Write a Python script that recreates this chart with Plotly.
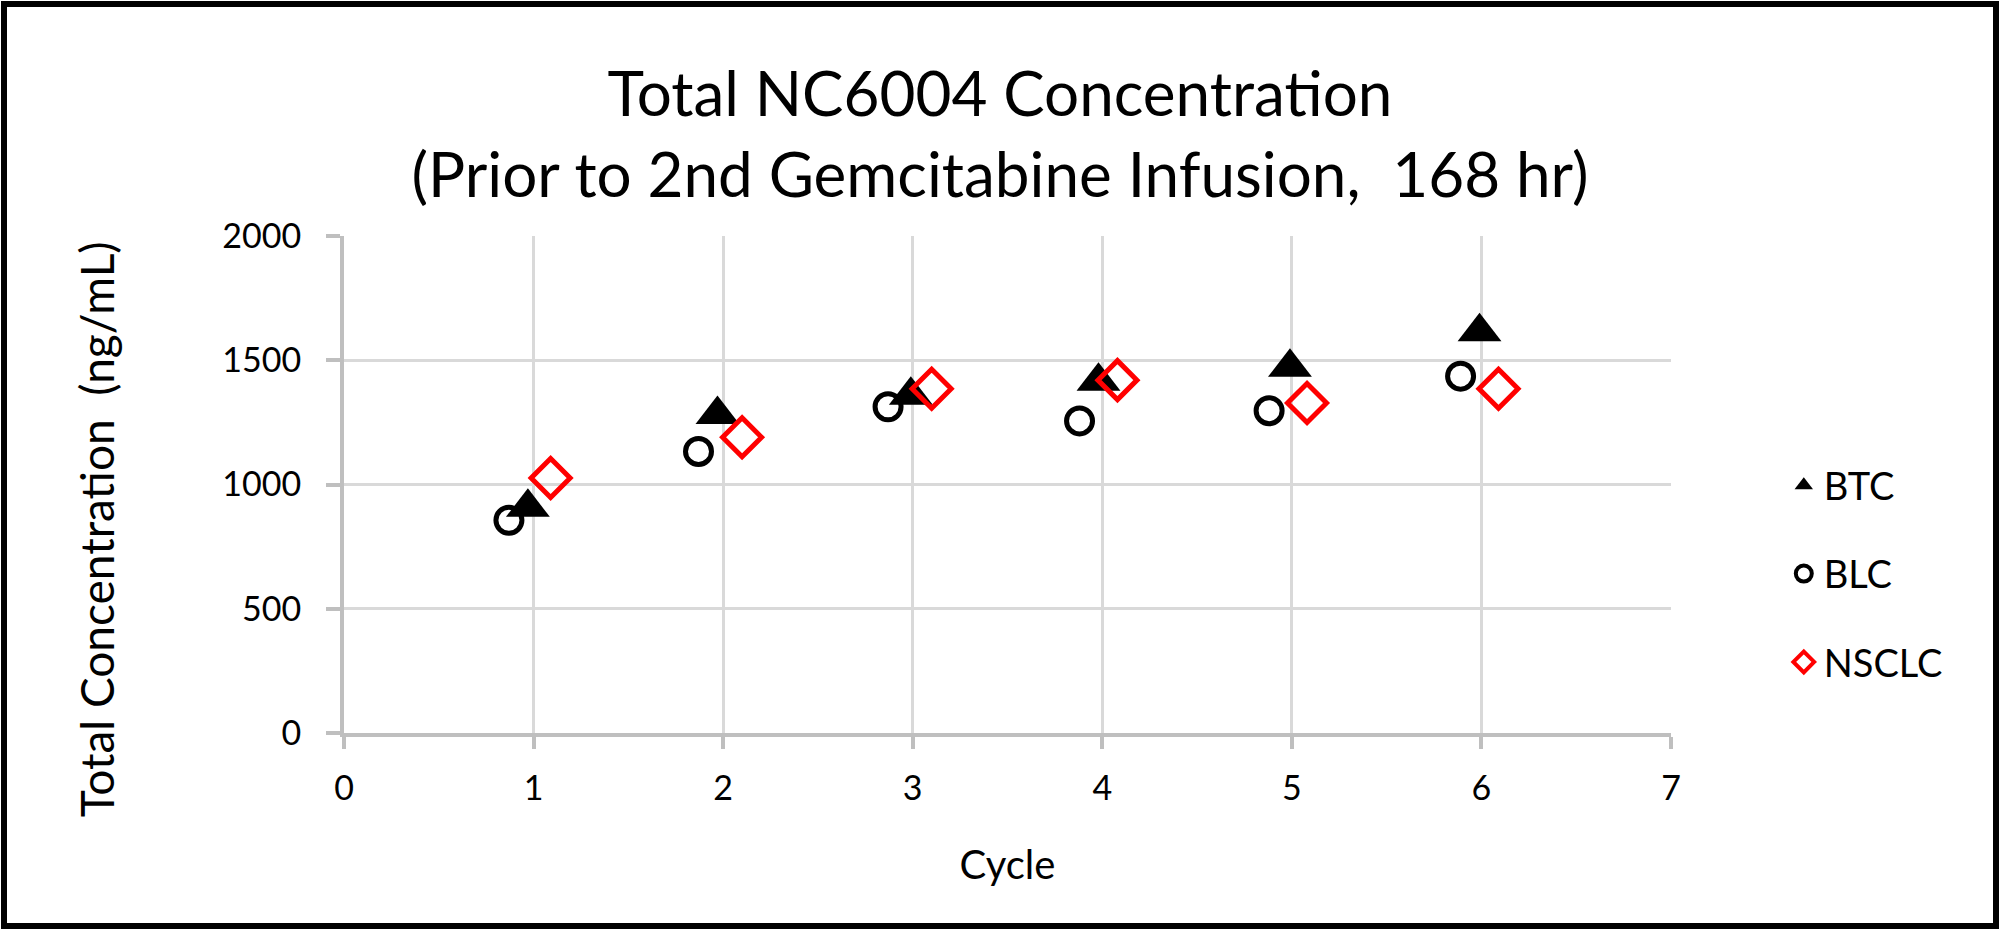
import plotly.graph_objects as go

# Total NC6004 concentration before the 2nd gemcitabine infusion (168 hr)
btc_cycle = [0.97, 1.97, 2.99, 3.98, 4.99, 5.99]
btc_conc = [908, 1282, 1359, 1415, 1472, 1615]

blc_cycle = [0.87, 1.87, 2.87, 3.88, 4.88, 5.89]
blc_conc = [856, 1133, 1313, 1256, 1297, 1436]

nsclc_cycle = [1.09, 2.1, 3.1, 4.08, 5.08, 6.09]
nsclc_conc = [1026, 1190, 1385, 1420, 1328, 1385]

x_ticks = [0, 1, 2, 3, 4, 5, 6, 7]
y_ticks = [0, 500, 1000, 1500, 2000]

FONT = 'Lato'
W, H = 2000, 930
ML, MR, MT, MB = 344, 329, 236, 197

markers = {
    'BTC': {'symbol': 'triangle-up', 'color': 'black'},
    'BLC': {'symbol': 'circle-open', 'color': 'black', 'line': {'width': 5, 'color': 'black'}},
    'NSCLC': {'symbol': 'diamond-open', 'color': 'red', 'line': {'width': 5, 'color': 'red'}},
}
sizes = {'BTC': 38, 'BLC': 26, 'NSCLC': 30}

data = []
for name, xs, ys in [('BTC', btc_cycle, btc_conc),
                     ('BLC', blc_cycle, blc_conc),
                     ('NSCLC', nsclc_cycle, nsclc_conc)]:
    data.append(go.Scatter(
        x=xs, y=ys, mode='markers', name=name, showlegend=False,
        marker=dict(markers[name], size=sizes[name])
    ))
# legend-only entries (smaller symbols, like the reference key)
for name in ['BTC', 'BLC', 'NSCLC']:
    m = dict(markers[name], size=16)
    if 'line' in m:
        m['line'] = {'width': 4, 'color': m['color']}
    data.append(go.Scatter(
        x=[None], y=[None], mode='markers', name=name, legendgroup=name,
        marker=m
    ))

pw = W - ML - MR
ph = H - MT - MB

layout = go.Layout({
    'width': W,
    'height': H,
    'margin': {'l': ML, 'r': MR, 't': MT, 'b': MB},
    'paper_bgcolor': 'white',
    'plot_bgcolor': 'white',
    'font': {'family': FONT, 'color': 'black', 'size': 34},
    'title': {
        'text': 'Total NC6004 Concentration<br>(Prior to 2nd Gemcitabine Infusion,  168 hr)',
        'font': {'size': 62, 'family': FONT},
        'x': 0.5, 'xanchor': 'center',
        'y': 0.875, 'yanchor': 'top', 'yref': 'container'
    },
    'xaxis': {
        'range': [0, 7],
        'tickvals': x_ticks,
        'showgrid': True, 'gridcolor': '#d9d9d9', 'gridwidth': 3,
        'showline': True, 'linecolor': '#bfbfbf', 'linewidth': 4,
        'ticks': 'outside', 'ticklen': 12, 'tickwidth': 4, 'tickcolor': '#bfbfbf',
        'ticklabelstandoff': 10,
        'tickfont': {'size': 34},
        'zeroline': False,
        'title': {'text': 'Cycle', 'font': {'size': 40}, 'standoff': 46}
    },
    'yaxis': {
        'range': [0, 2000],
        'tickvals': y_ticks,
        'showgrid': True, 'gridcolor': '#d9d9d9', 'gridwidth': 3,
        'showline': True, 'linecolor': '#bfbfbf', 'linewidth': 4,
        'ticks': 'outside', 'ticklen': 14, 'tickwidth': 4, 'tickcolor': '#bfbfbf',
        'ticklabelstandoff': 18,
        'tickfont': {'size': 34},
        'zeroline': False
    },
    'annotations': [{
        'text': 'Total Concentration  (ng/mL)',
        'xref': 'paper', 'yref': 'paper',
        'x': (96 - ML) / pw, 'y': 0.41,
        'xanchor': 'center', 'yanchor': 'middle',
        'textangle': -90, 'showarrow': False,
        'font': {'size': 46}
    }],
    'legend': {
        'x': 1.085, 'xanchor': 'left',
        'y': 0.32, 'yanchor': 'middle',
        'font': {'size': 38},
        'traceorder': 'grouped',
        'tracegroupgap': 36,
        'itemsizing': 'trace'
    },
    'shapes': [{
        'type': 'rect', 'xref': 'paper', 'yref': 'paper',
        'x0': -(ML - 4) / pw, 'x1': 1 + (MR - 4) / pw,
        'y0': -(MB - 4) / ph, 'y1': 1 + (MT - 4) / ph,
        'line': {'color': 'black', 'width': 6}
    }]
})

fig = go.Figure(data=data, layout=layout)
fig.write_html('out.html', config={'displayModeBar': False},
               post_script="document.body.style.margin='0';")
